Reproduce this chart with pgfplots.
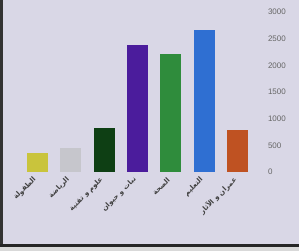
\documentclass[border=0pt]{standalone}
\usepackage{pgfplots}
\pgfplotsset{compat=1.18}
\usepackage{fontspec}
\setmainfont{Liberation Sans}
\newfontfamily\arabicfont[Script=Arabic]{DejaVu Sans}
\TeXXeTstate=1
\definecolor{bg}{HTML}{D9D7E6}
\definecolor{cA}{HTML}{C9C43C}
\definecolor{cB}{HTML}{C6C6CC}
\definecolor{cC}{HTML}{0E3F14}
\definecolor{cD}{HTML}{4B1C9C}
\definecolor{cE}{HTML}{2F8C3C}
\definecolor{cF}{HTML}{2F6FD2}
\definecolor{cG}{HTML}{BF5222}
\begin{document}
\begin{tikzpicture}
\fill[bg] (0,0) rectangle (299pt,251pt);
\begin{axis}[
  at={(19pt,79pt)}, anchor=south west,
  scale only axis, width=235.5pt, height=160pt,
  xmin=-0.55, xmax=6.5, ymin=0, ymax=3000,
  axis line style={draw=none},
  ytick={0,500,...,3000},
  yticklabel pos=right,
  yticklabel style={font=\fontsize{8}{9}\selectfont, text=black!60, anchor=west, xshift=10pt},
  /pgf/number format/assume math mode=true,
  /pgf/number format/1000 sep={},
  tick style={draw=none},
  xtick={0,...,6},
  xticklabels={
    {\arabicfont\beginR الطفولة\endR},
    {\arabicfont\beginR الرياضة\endR},
    {\arabicfont\beginR علوم و تقنية\endR},
    {\arabicfont\beginR نبات و حيوان\endR},
    {\arabicfont\beginR الصحة\endR},
    {\arabicfont\beginR التعليم\endR},
    {\arabicfont\beginR عمران و الآثار\endR}},
  xticklabel style={rotate=45, anchor=east, font=\bfseries\fontsize{7}{8}\selectfont, text=black!75, yshift=0pt},
  ybar, bar width=21pt, bar shift=0pt,
  clip=false,
]
\addplot[fill=cA, draw=none] coordinates {(0,350)};
\addplot[fill=cB, draw=none] coordinates {(1,450)};
\addplot[fill=cC, draw=none] coordinates {(2,820)};
\addplot[fill=cD, draw=none] coordinates {(3,2380)};
\addplot[fill=cE, draw=none] coordinates {(4,2210)};
\addplot[fill=cF, draw=none] coordinates {(5,2660)};
\addplot[fill=cG, draw=none] coordinates {(6,790)};
\end{axis}
\fill[black!80] (0,0) rectangle (2.5pt,251pt);
\fill[black!85] (0,4pt) rectangle (299pt,7pt);
\fill[white!85!black] (0,0) rectangle (299pt,4pt);
\pgfresetboundingbox
\path[use as bounding box] (0,0) rectangle (299pt,251pt);
\end{tikzpicture}
\end{document}
